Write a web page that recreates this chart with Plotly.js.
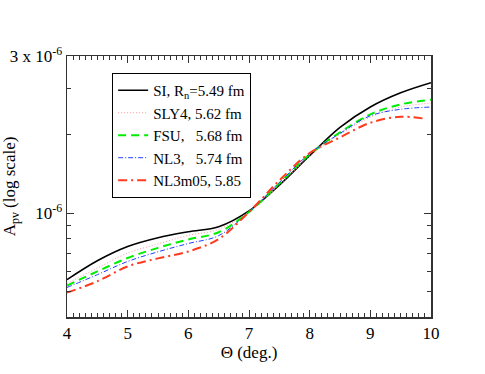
<!DOCTYPE html>
<html>
<head>
<meta charset="utf-8">
<script src="https://cdn.plot.ly/plotly-3.0.1.min.js"></script>
<style>
  html, body { margin: 0; padding: 0; background: #fff; }
  #graph { width: 485px; height: 374px; }
</style>
</head>
<body>
<div id="graph"></div>
<script>
// scattering angle (deg.)
const theta = [4, 4.5, 5, 5.5, 6, 6.5, 7, 7.5, 8, 8.5, 9, 9.5, 10];
const thetaNL3m05 = [4, 4.5, 5, 5.5, 6, 6.5, 7, 7.5, 8, 8.5, 9, 9.5, 9.9];

// A_pv in units of 1e-6
const apvSI     = [0.556, 0.657, 0.745, 0.805, 0.849, 0.887, 1.02, 1.28, 1.66, 2.13, 2.55, 2.89, 3.16];
const apvSLY4   = [0.537, 0.616, 0.703, 0.762, 0.822, 0.867, 1.01, 1.28, 1.65, 2.00, 2.33, 2.55, 2.64];
const apvFSU    = [0.528, 0.598, 0.673, 0.736, 0.793, 0.845, 1.01, 1.30, 1.68, 2.04, 2.39, 2.61, 2.72];
const apvNL3    = [0.519, 0.581, 0.653, 0.711, 0.765, 0.820, 1.01, 1.31, 1.69, 2.02, 2.36, 2.50, 2.55];
const apvNL3m05 = [0.496, 0.548, 0.625, 0.671, 0.713, 0.796, 1.01, 1.335, 1.70, 1.95, 2.22, 2.34, 2.30];

const names = ["SI, R<sub>n</sub>=5.49 fm", "SLY4, 5.62 fm", "FSU,   5.68 fm", "NL3,   5.74 fm", "NL3m05, 5.85"];

const yTickVals = [1e-6, 4e-6];
const yTickText = ["10<sup>-6</sup>", "3 x 10<sup>-6</sup>"];
const yMinorVals = [5e-7, 6e-7, 7e-7, 8e-7, 9e-7, 2e-6, 3e-6];

const scale = v => v.map(a => a * 1e-6);
const serif = "Liberation Serif";

let mk = (x, y, name, color, width, dash) => ({
    x: x, y: scale(y), name: name, mode: 'lines', type: 'scatter',
    line: { color: color, width: width, dash: dash, shape: 'spline', smoothing: 1 }
});

let data = [
    mk(theta, apvSI, names[0], '#000000', 1.6, 'solid'),
    mk(theta, apvSLY4, names[1], '#ff9a9a', 1, '1px,2px'),
    mk(theta, apvFSU, names[2], '#00ee00', 2, '8px,5px'),
    mk(theta, apvNL3, names[3], '#2040ff', 1, '5px,2px,1px,2px'),
    mk(thetaNL3m05, apvNL3m05, names[4], '#ff3b1f', 2, '9px,4px,2px,4px')
];

let layout = {
    width: 485, height: 374,
    margin: { l: 67, r: 54, t: 56, b: 57 },
    paper_bgcolor: '#fff', plot_bgcolor: '#fff',
    font: { family: serif, size: 16, color: '#000' },
    showlegend: true,
    legend: {
        x: 0.124, y: 0.935, xanchor: 'left', yanchor: 'top',
        bordercolor: '#000', borderwidth: 1, bgcolor: '#fff',
        font: { family: serif, size: 15, color: '#000' },
        itemwidth: 30, tracegroupgap: 0
    },
    xaxis: {
        range: [4, 10], dtick: 1, tick0: 4,
        ticks: 'inside', ticklen: 7, tickcolor: '#333', tickwidth: 1,
        minor: { dtick: 0.1, ticks: 'inside', ticklen: 4, tickcolor: '#333' },
        showline: true, linecolor: '#333', linewidth: 1.5, mirror: 'ticks',
        showgrid: false, zeroline: false,
        tickfont: { family: serif, size: 17 },
        title: { text: 'Θ (deg.)', font: { family: serif, size: 17 }, standoff: 2 }
    },
    yaxis: {
        type: 'log', range: [Math.log10(4e-7), Math.log10(4e-6)],
        tickmode: 'array', tickvals: yTickVals, ticktext: yTickText,
        ticks: 'inside', ticklen: 7, tickcolor: '#333', tickwidth: 1,
        minor: { tickmode: 'array', tickvals: yMinorVals, ticks: 'inside', ticklen: 4, tickcolor: '#333' },
        showline: true, linecolor: '#333', linewidth: 1.5, mirror: 'ticks',
        showgrid: false, zeroline: false,
        tickfont: { family: serif, size: 17 },
        title: { text: 'A<sub>pv</sub> (log scale)', font: { family: serif, size: 17 }, standoff: 6 }
    }
};

Plotly.newPlot('graph', data, layout, { staticPlot: true });
</script>
</body>
</html>
